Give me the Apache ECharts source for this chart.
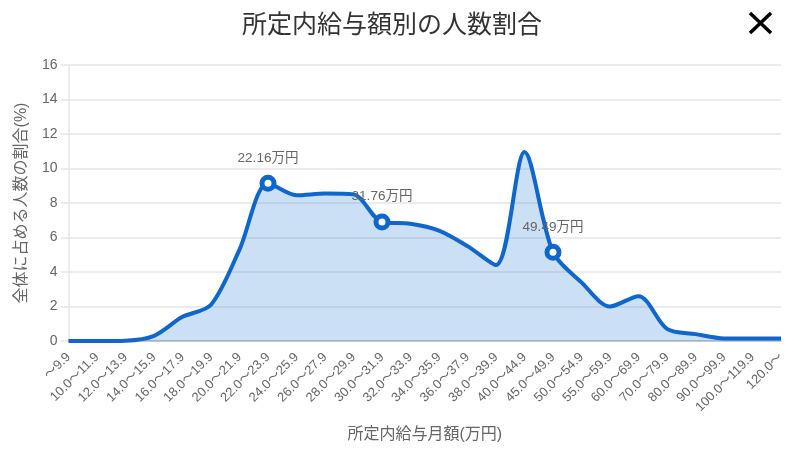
<!DOCTYPE html>
<html>
<head>
    <meta charset="utf-8">
    <title>所定内給与額別の人数割合</title>
    <script src="https://cdn.jsdelivr.net/npm/echarts@6/dist/echarts.min.js"></script>
    <style>html, body { margin: 0; padding: 0; background: #fff; }</style>
</head>
<body>
<div id="main" style="width: 786px; height: 456px;"></div>
<script type="text/javascript">
    var categories = ['～9.9', '10.0～11.9', '12.0～13.9', '14.0～15.9', '16.0～17.9', '18.0～19.9', '20.0～21.9',
        '22.0～23.9', '24.0～25.9', '26.0～27.9', '28.0～29.9', '30.0～31.9', '32.0～33.9', '34.0～35.9', '36.0～37.9',
        '38.0～39.9', '40.0～44.9', '45.0～49.9', '50.0～54.9', '55.0～59.9', '60.0～69.9', '70.0～79.9', '80.0～89.9',
        '90.0～99.9', '100.0～119.9', '120.0～'];
    var shares = [0, 0, 0.02, 0.3, 1.4, 2.1, 5.3, 9.15, 8.45, 8.55, 8.5, 6.9, 6.8, 6.4, 5.5, 4.4, 10.95, 5.15,
        3.4, 2.0, 2.6, 0.7, 0.4, 0.15, 0.15, 0.15];
    var markedCategories = ['22.0～23.9', '30.0～31.9', '45.0～49.9'];
    var markedLabels = ['22.16万円', '31.76万円', '49.49万円'];

    var fontFamily = '"Liberation Sans", "Noto Sans CJK JP", sans-serif';
    var myChart = echarts.init(document.getElementById('main'));

    // only the three marked classes get a symbol and a label
    var seriesData = shares.map(function (v, i) {
        var k = markedCategories.indexOf(categories[i]);
        if (k < 0) return { value: v, symbol: 'none' };
        return {
            value: v,
            symbol: 'circle',
            symbolSize: 12,
            label: { show: true, formatter: markedLabels[k] }
        };
    });

    var option = {
        animation: false,
        textStyle: { fontFamily: fontFamily },
        title: {
            text: '所定内給与額別の人数割合',
            left: 387,
            top: 9,
            textAlign: 'center',
            textStyle: { fontSize: 25, fontWeight: 'normal', color: '#333', fontFamily: fontFamily }
        },
        // keep the plot box where it is set, v6 otherwise shrinks it for the rotated labels
        grid: { left: 68.5, right: 5, top: 65, bottom: 115, outerBoundsMode: 'none' },
        xAxis: {
            type: 'category',
            data: categories,
            boundaryGap: false,
            name: '所定内給与月額(万円)',
            nameLocation: 'middle',
            nameGap: 86,
            nameTextStyle: { fontSize: 16, color: '#666' },
            axisLine: { lineStyle: { color: '#b8bcc4', width: 1.5 } },
            axisTick: { show: false },
            axisLabel: { interval: 0, rotate: 45, fontSize: 13, color: '#666', margin: 14 }
        },
        yAxis: {
            type: 'value',
            min: 0,
            max: 16,
            interval: 2,
            name: '全体に占める人数の割合(%)',
            nameLocation: 'middle',
            nameGap: 39,
            nameTextStyle: { fontSize: 16, color: '#666' },
            axisLine: { show: true, lineStyle: { color: '#e6e6e6', width: 1.5 } },
            axisTick: { show: true, length: 8, lineStyle: { color: '#e6e6e6', width: 1.5 } },
            axisLabel: { fontSize: 14, color: '#666', margin: 11 },
            splitLine: { lineStyle: { color: '#e6e6e6', width: 1.5 } }
        },
        series: [{
            type: 'line',
            data: seriesData,
            smooth: 0.3,
            showSymbol: true,
            lineStyle: { color: '#0f66cc', width: 4 },
            itemStyle: { color: '#fff', borderColor: '#0f66cc', borderWidth: 5 },
            areaStyle: { color: 'rgba(15,110,210,0.3)' },
            label: { position: 'top', distance: 10, fontSize: 13.5, color: '#666' }
        }],
        graphic: [
            { type: 'line', shape: { x1: 750, y1: 13, x2: 771, y2: 33 }, style: { stroke: '#000', lineWidth: 3.5 } },
            { type: 'line', shape: { x1: 771, y1: 13, x2: 750, y2: 33 }, style: { stroke: '#000', lineWidth: 3.5 } }
        ]
    };

    myChart.setOption(option);
</script>
</body>
</html>
